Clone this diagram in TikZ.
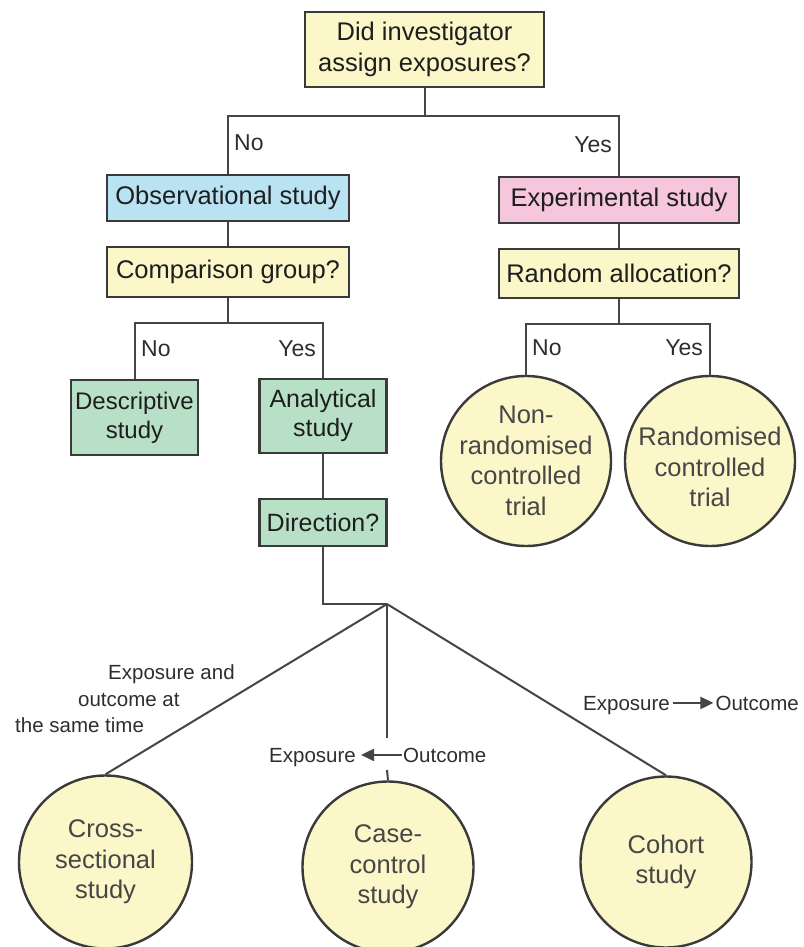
\documentclass[tikz,border=0pt]{standalone}
\usepackage{fontspec}
\setmainfont{Liberation Sans}
\usetikzlibrary{arrows.meta}
\definecolor{fyellow}{HTML}{FBF7C9}
\definecolor{fblue}{HTML}{B9E3F3}
\definecolor{fpink}{HTML}{F5C6DC}
\definecolor{fgreen}{HTML}{B7E0C6}
\definecolor{edgecol}{HTML}{3A3A3A}
\definecolor{linecol}{HTML}{454545}
\definecolor{txt}{HTML}{1E1E1E}
\definecolor{ctxt}{HTML}{464646}
\definecolor{stxt}{HTML}{2E2E2E}
\begin{document}
\begin{tikzpicture}[x=1pt,y=-1pt,
  box/.style={draw=edgecol, line width=2.4pt, rectangle, inner sep=0pt, align=center, text=txt, font=\fontsize{25.5}{31}\selectfont},
  circ/.style={draw=edgecol, line width=2.4pt, circle, fill=fyellow, inner sep=0pt},
  ctext/.style={align=center, text=ctxt, inner sep=0pt, font=\fontsize{25.5}{30.5}\selectfont},
  conn/.style={draw=linecol, line width=2pt},
  yn/.style={inner sep=0pt, text=stxt, font=\fontsize{23}{26}\selectfont},
  small/.style={inner sep=0pt, text=stxt, font=\fontsize{20.5}{26.5}\selectfont},
  arr/.style={conn, -{Triangle[length=13pt,width=12pt]}}
]
\useasboundingbox (0,0) rectangle (803,947);

% boxes
\node[box, fill=fyellow, minimum width=239pt, minimum height=75pt] (q1) at (424.5,49.5) {Did investigator\\assign exposures?};
\node[box, fill=fblue, minimum width=242pt, minimum height=46pt] (obs) at (228,198) {Observational study};
\node[box, fill=fpink, minimum width=240pt, minimum height=46pt] (exp) at (619,200) {Experimental study};
\node[box, fill=fyellow, minimum width=242pt, minimum height=50pt] (cmp) at (228,272) {Comparison group?};
\node[box, fill=fyellow, minimum width=240pt, minimum height=49pt] (rnd) at (619,273.5) {Random allocation?};
\node[box, fill=fgreen, minimum width=127pt, minimum height=75pt, font=\fontsize{24}{29}\selectfont] (desc) at (134.5,417.5) {Descriptive\\study};
\node[box, fill=fgreen, minimum width=127pt, minimum height=74pt, font=\fontsize{25}{29}\selectfont] (ana) at (323,416) {Analytical\\study};
\node[box, fill=fgreen, minimum width=127pt, minimum height=47pt, font=\fontsize{25}{29}\selectfont] (dir) at (323,522.5) {Direction?};

% circles
\node[circ, minimum size=170pt, label={[ctext]center:Non-\\randomised\\controlled\\trial}] (nrct) at (526,461) {};
\node[circ, minimum size=170pt, label={[ctext, yshift=-6pt]center:Randomised\\controlled\\trial}] (rct) at (710,461) {};
\node[circ, minimum size=173pt, label={[ctext]center:Cross-\\sectional\\study}] (cs) at (105.5,862) {};
\node[circ, minimum size=171pt, label={[ctext]center:Case-\\control\\study}] (cc) at (388,867) {};
\node[circ, minimum size=171pt, label={[ctext]center:Cohort\\study}] (coh) at (666,862) {};

% junctions
\coordinate (j1) at (424.5,116);
\coordinate (j2) at (228,323);
\coordinate (j3) at (619,324);
\coordinate (hub) at (387,604);
\coordinate (cm1) at (387,738);
\coordinate (cm2) at (387,770);

% connectors
\draw[conn] (q1.south) -- (j1);
\draw[conn] (obs.north) |- (j1) -| (exp.north);
\draw[conn] (obs) -- (cmp);
\draw[conn] (exp) -- (rnd);
\draw[conn] (cmp.south) -- (j2);
\draw[conn] (desc.north) |- (j2) -| (ana.north);
\draw[conn] (rnd.south) -- (j3);
\draw[conn] (nrct.north) |- (j3) -| (rct.north);
\draw[conn] (ana) -- (dir);
\draw[conn] (dir.south) |- (hub);
\draw[conn] (hub) -- (cs.north);
\draw[conn] (hub) -- (coh.north);
\draw[conn] (hub) -- (cm1);
\draw[conn] (cm2) -- (cc.north);

% yes/no labels
\node[yn, anchor=west] (no1) at (234,143) {No};
\node[yn, anchor=east] (yes1) at (612,145) {Yes};
\node[yn, anchor=west] (no2) at (141,349) {No};
\node[yn, anchor=east] (yes2) at (316,349) {Yes};
\node[yn, anchor=west] (no3) at (532,348) {No};
\node[yn, anchor=east] (yes3) at (703,348) {Yes};

% direction labels
\node[small, anchor=west, align=left] (same) at (15,699) {\hspace*{93pt}Exposure and\\\hspace*{63pt}outcome at\\the same time};
\node[small, anchor=base east] (ccE) at (356,762) {Exposure};
\node[small, anchor=base west] (ccO) at (403,762) {Outcome};
\draw[arr, shorten >=5pt, shorten <=1pt] (ccO.west) -- (ccO.west -| ccE.east);
\node[small, anchor=base west] (cohE) at (583,710) {Exposure};
\node[small, anchor=base east] (cohO) at (799,710) {Outcome};
\draw[arr, shorten <=3pt, shorten >=2pt] (cohO.west -| cohE.east) -- (cohO.west);
\end{tikzpicture}
\end{document}
